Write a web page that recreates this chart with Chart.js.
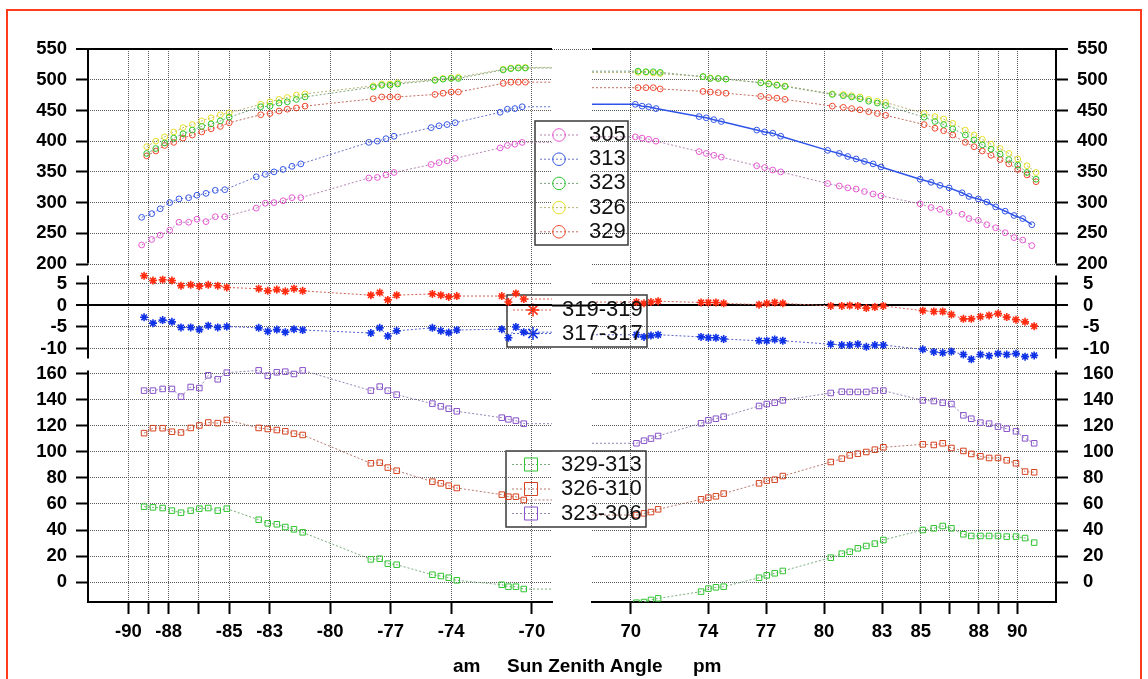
<!DOCTYPE html>
<html>
<head>
<meta charset="utf-8">
<title>Sun Zenith Angle</title>
<script src="https://cdn.jsdelivr.net/npm/chart.js"></script>
<style>
  body { margin: 0; background: #fff; }
  #wrap { position: relative; width: 1148px; height: 679px; overflow: hidden; }
  #frame { position: absolute; left: 6px; top: 9px; width: 1136px; height: 700px; border: 2px solid #ff3b1e; box-sizing: border-box; }
  canvas { position: absolute; left: 0; top: 0; }
  .xt { position: absolute; top: 656px; font: bold 19px "Liberation Sans", Arial, sans-serif; line-height: 20px; color: #000; white-space: nowrap; }
</style>
</head>
<body>
<div id="wrap">
  <div id="frame"></div>
  <canvas id="pm" width="1148" height="679"></canvas>
  <canvas id="am" width="1148" height="679"></canvas>
  <span class="xt" style="left:453px">am</span>
  <span class="xt" style="left:507px">Sun Zenith Angle</span>
  <span class="xt" style="left:693px">pm</span>
</div>
<script>
// sun zenith angle of each scan (deg), morning negative, afternoon positive
// A: 305/313 channels, B: 323/326/329 channels, C: ratio panels
const szaAmA = [-89.34, -88.84, -88.42, -87.95, -87.49, -87.01, -86.60, -86.15, -85.69, -85.22,
  -83.66, -83.21, -82.78, -82.33, -81.89, -81.45, -78.08, -77.66, -77.23, -76.83,
  -74.99, -74.60, -74.20, -73.80, -71.57, -71.21, -70.84, -70.48];
const szaAmB = [-89.09, -88.64, -88.20, -87.75, -87.29, -86.83, -86.36, -85.90, -85.44, -85.00,
  -83.44, -82.98, -82.53, -82.12, -81.67, -81.24, -77.86, -77.44, -77.03, -76.65,
  -74.80, -74.40, -74.00, -73.64, -71.42, -71.04, -70.67, -70.32];
const szaAmC = [-89.22, -88.78, -88.30, -87.84, -87.39, -86.91, -86.48, -86.04, -85.57, -85.12,
  -83.54, -83.09, -82.64, -82.22, -81.79, -81.36, -77.98, -77.54, -77.14, -76.70,
  -74.93, -74.51, -74.12, -73.72, -71.49, -71.16, -70.79, -70.40];
const szaPmA = [70.24, 70.59, 70.93, 71.31, 73.54, 73.91, 74.30, 74.69, 76.52, 76.93, 77.35, 77.76,
  80.19, 80.79, 81.23, 81.66, 82.09, 82.54, 82.95, 84.97, 85.54, 86.00, 86.47, 87.14,
  87.50, 87.98, 88.42, 88.88, 89.37, 89.83, 90.28, 90.75];
const szaPmB = [70.38, 70.79, 71.17, 71.53, 73.74, 74.12, 74.53, 74.93, 76.73, 77.14, 77.56, 77.98,
  80.43, 81.00, 81.43, 81.86, 82.31, 82.76, 83.19, 85.18, 85.74, 86.19, 86.66, 87.31,
  87.76, 88.19, 88.64, 89.11, 89.56, 90.02, 90.50, 90.97];
const szaPmC = [70.30, 70.69, 71.05, 71.42, 73.64, 74.02, 74.41, 74.81, 76.64, 77.04, 77.45, 77.87,
  80.35, 80.92, 81.33, 81.75, 82.19, 82.63, 83.07, 85.11, 85.68, 86.14, 86.59, 87.21,
  87.62, 88.09, 88.54, 89.00, 89.45, 89.93, 90.40, 90.87];

// morning
const am305 = [231, 240, 247, 255, 268, 268, 273, 269, 277, 277, 291, 299, 300, 303, 308, 308,
  340, 341, 345, 349, 362, 365, 368, 372, 389, 393, 395, 398];
const am313 = [276, 282, 290, 300, 306, 308, 312, 315, 320, 321, 342, 346, 350, 354, 359, 363,
  398, 400, 404, 408, 422, 425, 427, 430, 447, 452, 453, 456];
const am323 = [380, 388, 397, 405, 412, 418, 424, 428, 433, 439, 456, 457, 462, 464, 468, 472,
  488, 491, 491, 493, 499, 501, 502, 502, 516, 518, 519, 519];
const am326 = [391, 400, 407, 415, 422, 427, 433, 438, 443, 446, 460, 464, 468, 471, 475, 477,
  490, 493, 493, 495, 500, 502, 503, 504, 517, 519, 520, 520];
const am329 = [376, 384, 393, 398, 405, 410, 415, 420, 424, 430, 443, 445, 449, 452, 454, 457,
  469, 472, 472, 472, 476, 478, 480, 480, 494, 496, 496, 496];
const am319 = [6.9, 5.8, 6.0, 5.8, 4.6, 4.8, 4.5, 4.8, 4.6, 4.2, 3.9, 3.4, 3.7, 3.3, 3.9, 3.4,
  2.4, 3.0, 1.3, 2.4, 2.7, 2.4, 2.0, 2.2, 2.2, 0.8, 2.8, 1.5];
const am317 = [-2.75, -4.1, -3.4, -3.8, -5.1, -5.1, -5.6, -4.7, -5.1, -4.9, -5.2, -6.0, -5.6, -6.2, -5.5, -5.7,
  -6.4, -5.2, -7.1, -5.9, -5.2, -5.9, -6.3, -5.7, -5.5, -7.5, -5.0, -6.2];
const am329313 = [57.9, 57.4, 56.9, 54.9, 53.3, 54.9, 56.4, 56.9, 54.9, 56.4, 47.9, 45.1, 44.4, 42.3, 40.5, 38.2,
  17.4, 17.9, 14.1, 13.3, 5.6, 4.6, 3.3, 1.3, -2.1, -3.6, -3.6, -5.4];
const am326310 = [114.5, 118.3, 118.3, 115.6, 115, 118.5, 120.4, 122.7, 122.2, 124.7, 118.5, 117.7, 116.9, 115.9, 114.1, 113.1,
  91.3, 91.8, 88, 85.6, 77.2, 75.9, 74.1, 72.3, 67.2, 65.6, 65.6, 63.1];
const am323306 = [147.2, 147.2, 148.5, 148.5, 142.6, 150, 149.2, 159, 155.9, 161, 162.8, 158.7, 161.3, 161.8, 160, 162.8,
  147.2, 150.3, 147.2, 144.1, 137.2, 135.1, 133.3, 131.3, 126.4, 125.1, 124.1, 121.8];

// afternoon
const pm305 = [407, 405, 403, 400, 383, 380, 377, 374, 360, 357, 353, 350, 331, 327, 324, 322, 318, 314, 311,
  298, 292, 289, 284, 281, 274, 271, 264, 259, 251, 243, 239, 230];
const pm313 = [460, 457, 456, 453, 440, 438, 435, 432, 418, 415, 413, 408, 385, 380, 375, 371, 367, 363, 358,
  338, 333, 328, 324, 316, 310, 306, 301, 293, 286, 279, 274, 264];
const pm323 = [514, 513, 513, 512, 505, 502, 502, 501, 495, 493, 491, 489, 476, 474, 472, 469, 465, 462, 458,
  439, 432, 427, 420, 410, 402, 394, 387, 379, 370, 361, 349, 338];
const pm326 = [512, 512, 511, 510, 505, 503, 502, 501, 495, 494, 492, 490, 477, 476, 474, 472, 468, 465, 463,
  445, 440, 436, 429, 418, 410, 403, 395, 388, 380, 371, 360, 349];
const pm329 = [487, 487, 487, 485, 481, 480, 479, 478, 473, 471, 470, 468, 457, 455, 453, 451, 448, 445, 442,
  427, 421, 417, 410, 398, 391, 384, 377, 370, 363, 354, 345, 334];
const pm319 = [0.8, 0.5, 0.8, 1.0, 0.7, 0.7, 0.7, 0.5, 0.2, 0.5, 0.7, 0.5, -0.1, -0.1, 0.0, -0.1, -0.6, -0.35, -0.1,
  -1.2, -1.4, -1.4, -2.1, -3.1, -3.1, -2.6, -2.3, -1.9, -2.7, -3.3, -3.8, -4.8];
const pm317 = [-6.8, -7.3, -7.0, -6.8, -7.3, -7.5, -7.5, -7.8, -8.2, -8.2, -7.9, -8.2, -9.0, -9.2, -9.2, -9.0, -9.6, -9.2, -9.2,
  -10.2, -10.8, -11.0, -10.7, -11.4, -12.5, -11.4, -11.7, -11.2, -11.4, -11.2, -11.9, -11.6];
const pm329313 = [-15.9, -15.4, -13.8, -12.6, -7.4, -5.1, -4.1, -3.6, 3.3, 5.1, 6.7, 8.5, 18.7, 21.8, 23.3, 25.9, 27.7, 29.5, 32.3,
  40, 41.3, 43.1, 41.3, 36.7, 35.4, 35.4, 35.4, 35.4, 34.9, 34.9, 33.8, 30.3];
const pm326310 = [51.5, 52.8, 53.8, 55.9, 63.6, 64.9, 65.9, 68, 75.9, 78, 78.7, 81.5, 92.3, 94.9, 97.4, 98.7, 100, 101.8, 103.6,
  105.9, 105.4, 106.7, 103.1, 100.8, 98.5, 96.7, 95.4, 95.4, 93.6, 91.3, 84.9, 84.4];
const pm323306 = [106.7, 108.7, 110.3, 112.3, 122.1, 124.4, 125.6, 127.2, 135.4, 136.9, 137.9, 139.7, 145.4, 146.4, 146.2, 146.2, 146.2, 147.2, 147.2,
  139.7, 139.2, 137.9, 136.9, 128.2, 125.6, 122.6, 121.8, 119.5, 117.9, 115.9, 110.5, 106.7];

// axes
const amTicks = [-90, -89, -88, -86.5, -85, -83, -80, -77, -74, -70];
const pmTicks = [70, 74, 77, 80, 83, 85, 86.5, 88, 89, 90];
const unlabeled = [-89, -86.5, 86.5, 89];
const topTicks = [200, 250, 300, 350, 400, 450, 500, 550];
const midTicks = [-10, -5, 0, 5];
const lowTicks = [0, 20, 40, 60, 80, 100, 120, 140, 160];

const tickFont = { family: '"Liberation Sans", Arial, sans-serif', size: 18.5, weight: 'bold' };
const gridColor = '#5c5c5c';

const look = {
  '305': { mark: '#e858d4', line: '#b386b3', shape: 'circle', r: 2.9 },
  '313': { mark: '#3656e6', line: '#6676c8', shape: 'circle', r: 2.9 },
  '323': { mark: '#2fc62f', line: '#7ca47c', shape: 'circle', r: 2.9 },
  '326': { mark: '#e4e028', line: '#b6b274', shape: 'circle', r: 2.9 },
  '329': { mark: '#f0472c', line: '#c26c5e', shape: 'circle', r: 2.9 },
  '319-319': { mark: '#ff2c10', line: '#d0644f', shape: 'star', r: 4, pw: 1.6 },
  '317-317': { mark: '#1032e6', line: '#5664c8', shape: 'star', r: 4, pw: 1.6 },
  '329-313': { mark: '#30c430', line: '#7aac7a', shape: 'rect', r: 3.9 },
  '326-310': { mark: '#d6421f', line: '#b67a6c', shape: 'rect', r: 3.9 },
  '323-306': { mark: '#8752c8', line: '#9686b6', shape: 'rect', r: 3.9 }
};

// one dataset; the trace runs flat out to the panel edge like the original plot
function series(name, xs, ys, axis, edge, over) {
  const s = Object.assign({}, look[name], over || {});
  const pts = xs.map((x, i) => ({ x: x, y: ys[i] }));
  if (edge < 0) pts.push({ x: edge, y: ys[ys.length - 1], edge: true });
  else pts.unshift({ x: edge, y: ys[0], edge: true });
  return {
    label: name,
    data: pts,
    xAxisID: 'x',
    yAxisID: axis,
    borderColor: s.line,
    borderWidth: s.width || 1,
    borderDash: s.dash || [2, 2],
    pointStyle: s.shape,
    pointRadius: ctx => (ctx.raw && ctx.raw.edge) ? 0 : s.r,
    pointBorderColor: look[name].mark,
    pointBackgroundColor: 'rgba(0,0,0,0)',
    pointBorderWidth: s.pw || 1,
    tension: 0,
    fill: false
  };
}

function solidLine(ctx) {
  const v = ctx.tick ? ctx.tick.value : null;
  return (ctx.scale.id === 'yMid' && v === 0) || (ctx.scale.id === 'yTop' && v === 550);
}

function yScale(side, min, max, ticks, weight, pad) {
  return {
    type: 'linear',
    position: side,
    stack: side,
    stackWeight: weight,
    min: min,
    max: max,
    afterBuildTicks: s => { s.ticks = ticks.map(v => ({ value: v })); },
    afterFit: s => { s.width = side === 'left' ? 88 : 92; },
    ticks: { autoSkip: false, font: tickFont, color: '#000', padding: pad },
    grid: {
      color: c => solidLine(c) ? '#000' : gridColor,
      lineWidth: c => solidLine(c) ? 2 : 1,
      tickLength: 12, tickColor: '#000', tickWidth: 2
    },
    // the axis line itself is drawn per panel by the splitAxes plugin
    border: { display: false, dash: c => solidLine(c) ? [] : [1, 1] }
  };
}

function xScale(min, max, ticks) {
  return {
    type: 'linear',
    position: 'bottom',
    min: min,
    max: max,
    afterBuildTicks: s => { s.ticks = ticks.map(v => ({ value: v })); },
    afterFit: s => { s.height = 77; },
    ticks: {
      autoSkip: false, maxRotation: 0, font: tickFont, color: '#000', padding: 7,
      callback: v => unlabeled.includes(v) ? '' : String(v)
    },
    grid: { color: gridColor, lineWidth: 1, tickLength: 12, tickColor: '#000', tickWidth: 2 },
    border: { color: '#000', width: 2, dash: [1, 1] }
  };
}

function chartOptions(side, xMin, xMax, xTicks, pad) {
  const scales = { x: xScale(xMin, xMax, xTicks) };
  const lp = side === 'left' ? [9, 9, 9] : [9, 15, 15];
  const ys = [
    ['yTop', 191.1, 550, topTicks, 220.5, lp[0]],
    ['yMid', -13.72, 8.37, midTicks, 95, lp[1]],
    ['yLow', -15.38, 167.3, lowTicks, 237.5, lp[2]]
  ];
  // left stacks are laid out last-defined on top, right stacks first-defined on top
  if (side === 'left') ys.reverse();
  ys.forEach(a => { scales[a[0]] = yScale(side, a[1], a[2], a[3], a[4], a[5]); });
  return {
    responsive: false,
    animation: false,
    devicePixelRatio: 1,
    layout: { padding: pad },
    plugins: { legend: { display: false }, tooltip: { enabled: false } },
    scales: scales
  };
}

// vertical axis line of each panel, with a short break between panels
const splitAxes = {
  id: 'splitAxes',
  afterDraw(chart) {
    const ctx = chart.ctx;
    ctx.save();
    ctx.strokeStyle = '#000';
    ctx.lineWidth = 2;
    ['yTop', 'yMid', 'yLow'].forEach(id => {
      const s = chart.scales[id];
      const x = s.position === 'left' ? s.right : s.left;
      const y1 = id === 'yTop' ? s.top - 1 : s.top + 6;
      const y2 = id === 'yLow' ? s.bottom + 1 : s.bottom - 6;
      ctx.beginPath();
      ctx.moveTo(x, y1);
      ctx.lineTo(x, y2);
      ctx.stroke();
    });
    ctx.restore();
  }
};

// legend boxes sit over the gap between the two halves
const legends = [
  { x: 535, y: 121, w: 93, h: 124, y0: 135, step: 24.2, x1: 540, x2: 578, r: 6.3, tx: 589,
    items: ['305', '313', '323', '326', '329'] },
  { x: 507, y: 295, w: 140, h: 52, y0: 310, step: 23.5, x1: 513, x2: 553, r: 6.5, tx: 562, pw: 1.5,
    items: ['319-319', '317-317'] },
  { x: 506, y: 451, w: 140, h: 76, y0: 464.5, step: 24.5, x1: 512, x2: 550, r: 9.2, tx: 561,
    items: ['329-313', '326-310', '323-306'] }
];

function marker(ctx, shape, x, y, r, color, w) {
  ctx.strokeStyle = color;
  ctx.lineWidth = w || 1;
  ctx.beginPath();
  if (shape === 'circle') {
    ctx.arc(x, y, r, 0, Math.PI * 2);
  } else if (shape === 'rect') {
    const h = r * Math.SQRT1_2;
    ctx.rect(x - h, y - h, 2 * h, 2 * h);
  } else {
    for (let k = 0; k < 4; k++) {
      const a = k * Math.PI / 4;
      ctx.moveTo(x - r * Math.cos(a), y - r * Math.sin(a));
      ctx.lineTo(x + r * Math.cos(a), y + r * Math.sin(a));
    }
  }
  ctx.stroke();
}

function drawLegend(ctx, L) {
  ctx.save();
  ctx.setLineDash([]);
  ctx.strokeStyle = '#3a3a3a';
  ctx.lineWidth = 1.5;
  ctx.strokeRect(L.x, L.y, L.w, L.h);
  L.items.forEach((name, i) => {
    const s = look[name];
    const y = L.y0 + i * L.step;
    ctx.setLineDash([2, 2]);
    ctx.lineWidth = 1;
    ctx.strokeStyle = s.line;
    ctx.beginPath();
    ctx.moveTo(L.x1, y);
    ctx.lineTo(L.x2, y);
    ctx.stroke();
    ctx.setLineDash([]);
    marker(ctx, s.shape, (L.x1 + L.x2) / 2, y, L.r, s.mark, L.pw);
    ctx.fillStyle = '#111';
    ctx.font = '22px "Liberation Sans", Arial, sans-serif';
    ctx.textBaseline = 'middle';
    ctx.textAlign = 'left';
    ctx.fillText(name, L.tx, y);
  });
  ctx.restore();
}

const amChart = new Chart(document.getElementById('am'), {
  type: 'line',
  data: {
    datasets: [
      series('305', szaAmA, am305, 'yTop', -69),
      series('313', szaAmA, am313, 'yTop', -69),
      series('323', szaAmB, am323, 'yTop', -69),
      series('326', szaAmB, am326, 'yTop', -69),
      series('329', szaAmB, am329, 'yTop', -69),
      series('319-319', szaAmC, am319, 'yMid', -69),
      series('317-317', szaAmC, am317, 'yMid', -69),
      series('329-313', szaAmC, am329313, 'yLow', -69),
      series('326-310', szaAmC, am326310, 'yLow', -69),
      series('323-306', szaAmC, am323306, 'yLow', -69)
    ]
  },
  options: chartOptions('left', -92, -69, amTicks, { left: 0, right: 596, top: 49, bottom: 0 }),
  plugins: [splitAxes]
});

// zero line and top edge carried across the gap, plus the legends
const gapPlugin = {
  id: 'gap',
  afterDraw(chart) {
    const ctx = chart.ctx;
    const a = amChart.chartArea;
    const b = chart.chartArea;
    const y0 = chart.scales.yMid.getPixelForValue(0);
    ctx.save();
    ctx.strokeStyle = '#000';
    ctx.lineWidth = 2;
    ctx.beginPath();
    ctx.moveTo(a.right, y0);
    ctx.lineTo(b.left, y0);
    ctx.stroke();
    ctx.strokeStyle = gridColor;
    ctx.lineWidth = 1;
    ctx.setLineDash([1, 1]);
    ctx.beginPath();
    ctx.moveTo(a.right, b.top + 0.5);
    ctx.lineTo(b.left, b.top + 0.5);
    ctx.stroke();
    ctx.restore();
    legends.forEach(L => drawLegend(ctx, L));
  }
};

const pmChart = new Chart(document.getElementById('pm'), {
  type: 'line',
  data: {
    datasets: [
      series('305', szaPmA, pm305, 'yTop', 68),
      series('313', szaPmA, pm313, 'yTop', 68, { line: '#2f54e8', dash: [], width: 1.5 }),
      series('323', szaPmB, pm323, 'yTop', 68),
      series('326', szaPmB, pm326, 'yTop', 68),
      series('329', szaPmB, pm329, 'yTop', 68),
      series('319-319', szaPmC, pm319, 'yMid', 68),
      series('317-317', szaPmC, pm317, 'yMid', 68),
      series('329-313', szaPmC, pm329313, 'yLow', 68),
      series('326-310', szaPmC, pm326310, 'yLow', 68),
      series('323-306', szaPmC, pm323306, 'yLow', 68)
    ]
  },
  options: chartOptions('right', 68, 92, pmTicks, { left: 592, right: 0, top: 49, bottom: 0 }),
  plugins: [splitAxes, gapPlugin]
});
</script>
</body>
</html>
